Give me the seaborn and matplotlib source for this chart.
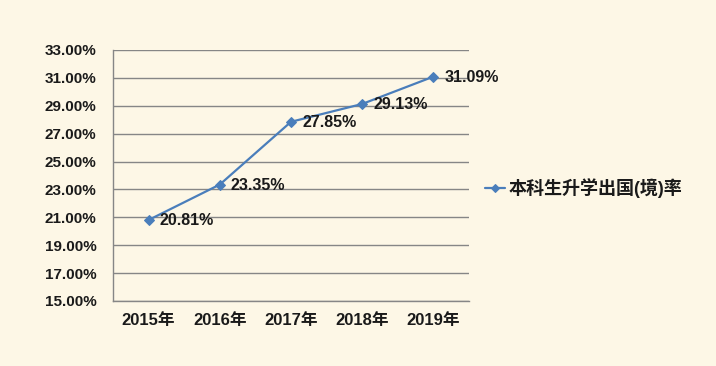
import matplotlib
matplotlib.use("Agg")
import matplotlib.pyplot as plt
import seaborn as sns
import pandas as pd

years = ["2015年", "2016年", "2017年", "2018年", "2019年"]
rates = [20.81, 23.35, 27.85, 29.13, 31.09]
series_name = "本科生升学出国(境)率"
yticks = [15, 17, 19, 21, 23, 25, 27, 29, 31, 33]

sns.set_style("white")
plt.rcParams['font.family'] = ['Liberation Sans', 'Noto Sans CJK SC']

bg = "#FDF7E6"
line_color = "#4A7EBB"
grid_color = "#868686"
text_color = "#1a1a1a"

df = pd.DataFrame({"year": years, "rate": rates})

fig = plt.figure(figsize=(7.16, 3.66), dpi=100, facecolor=bg)
ax = fig.add_axes([0.1578, 0.1776, 0.655 - 0.1578, 0.8634 - 0.1776])
ax.set_facecolor(bg)

sns.lineplot(data=df, x="year", y="rate", ax=ax, color=line_color, linewidth=1.6,
             marker="D", markersize=5, markeredgecolor=line_color, label=series_name,
             sort=False)

for i, v in enumerate(rates):
    ax.annotate(f"{v:.2f}%", (i, v), xytext=(8, -0.5), textcoords="offset points",
                ha="left", va="center", fontsize=11.5, fontweight="bold", color=text_color)

ax.set_xlim(-0.5, len(years) - 0.5)
ax.set_ylim(15, 33)
ax.set_yticks(yticks)
ax.set_yticklabels([f"{t:.2f}%" for t in yticks])
ax.set_xticks(range(len(years)))
ax.set_xticklabels(years)
for lab in ax.get_yticklabels():
    lab.set_fontweight("bold")
    lab.set_fontsize(11)
    lab.set_color(text_color)
for lab in ax.get_xticklabels():
    lab.set_fontweight("bold")
    lab.set_fontsize(12)
    lab.set_color(text_color)
ax.tick_params(axis="y", length=0, pad=12)
ax.tick_params(axis="x", length=0, pad=9)
ax.set_xlabel("")
ax.set_ylabel("")
ax.yaxis.grid(True, color=grid_color, linewidth=1)
ax.xaxis.grid(False)
for s in ["top", "right"]:
    ax.spines[s].set_visible(False)
for s in ["left", "bottom"]:
    ax.spines[s].set_color(grid_color)
    ax.spines[s].set_linewidth(1)

leg = ax.legend(loc="center left", bbox_to_anchor=(1.0, 0.45), frameon=False,
                prop={"weight": "bold", "size": 13}, handlelength=1.1, handletextpad=0.2,
                markerscale=0.8)
for t in leg.get_texts():
    t.set_color(text_color)

fig.savefig("out.png", dpi=100, facecolor=bg)
